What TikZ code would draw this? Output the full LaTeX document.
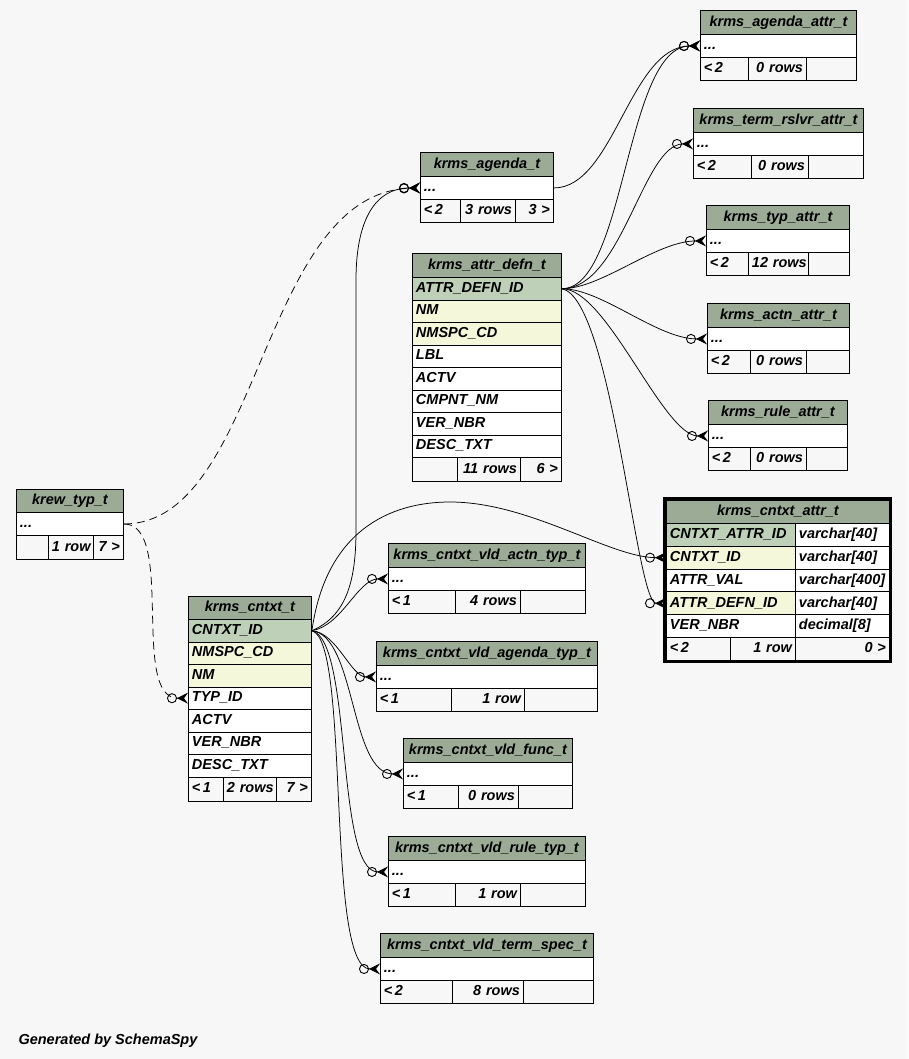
\documentclass[tikz,border=0pt]{standalone}
\usepackage{fontspec}
\setmainfont{Liberation Sans}
\usepackage{tikz}
\usetikzlibrary{arrows.meta}
\definecolor{bgc}{HTML}{F7F7F7}
\definecolor{hdrc}{HTML}{9BAB96}
\definecolor{pkc}{HTML}{BED1B8}
\definecolor{idxc}{HTML}{F4F7DA}
\newcommand{\tcell}[8]{%
  \pgfmathsetmacro{\cellw}{#4-7}%
  \node[cell, fill=#6, align=#7, text width=\cellw pt, minimum height=#5pt] (#1) at (#2,#3) {#8};}
\tikzset{
  cell/.style={draw=black, line width=0.9pt, anchor=north west, inner xsep=3.5pt, inner ysep=0pt,
    font=\fontsize{14.5}{16}\selectfont\bfseries\itshape, text height=10.5pt, text depth=3pt},
  fk/.style={line width=0.75pt, -{Circle[open,length=10pt,width=10pt,line width=0.9pt] Stealth[reversed,length=11pt,width=11pt,inset=4pt]}},
  implied/.style={fk, dash pattern=on 8pt off 5pt}
}

\begin{document}
\begin{tikzpicture}[x=1pt,y=-1pt]
    \useasboundingbox (0,0) rectangle (908,1059);
    \fill[bgc] (0,0) rectangle (908,1059);
    % krms_agenda_attr_t
    \tcell{agattr-h}{700}{10}{156}{24}{hdrc}{center}{krms\_agenda\_attr\_t}
    \tcell{agattr-r}{700}{34}{156}{23}{white}{left}{...}
    \tcell{agattr-f1}{700}{57}{48}{23}{none}{left}{<\,2}
    \tcell{agattr-f2}{748}{57}{58}{23}{none}{right}{0~rows}
    \tcell{agattr-f3}{806}{57}{50}{23}{none}{right}{}
    % krms_term_rslvr_attr_t
    \tcell{trattr-h}{693}{108}{170}{24}{hdrc}{center}{krms\_term\_rslvr\_attr\_t}
    \tcell{trattr-r}{693}{132}{170}{23}{white}{left}{...}
    \tcell{trattr-f1}{693}{155}{58}{23}{none}{left}{<\,2}
    \tcell{trattr-f2}{751}{155}{57}{23}{none}{right}{0~rows}
    \tcell{trattr-f3}{808}{155}{55}{23}{none}{right}{}
    % krms_typ_attr_t
    \tcell{typattr-h}{706}{205}{143}{24}{hdrc}{center}{krms\_typ\_attr\_t}
    \tcell{typattr-r}{706}{229}{143}{23}{white}{left}{...}
    \tcell{typattr-f1}{706}{252}{42}{23}{none}{left}{<\,2}
    \tcell{typattr-f2}{748}{252}{60}{23}{none}{right}{12~rows}
    \tcell{typattr-f3}{808}{252}{41}{23}{none}{right}{}
    % krms_actn_attr_t
    \tcell{actnattr-h}{707}{303}{142}{24}{hdrc}{center}{krms\_actn\_attr\_t}
    \tcell{actnattr-r}{707}{327}{142}{23}{white}{left}{...}
    \tcell{actnattr-f1}{707}{350}{43}{23}{none}{left}{<\,2}
    \tcell{actnattr-f2}{750}{350}{56}{23}{none}{right}{0~rows}
    \tcell{actnattr-f3}{806}{350}{43}{23}{none}{right}{}
    % krms_rule_attr_t
    \tcell{ruleattr-h}{708}{400}{139}{24}{hdrc}{center}{krms\_rule\_attr\_t}
    \tcell{ruleattr-r}{708}{424}{139}{23}{white}{left}{...}
    \tcell{ruleattr-f1}{708}{447}{42}{23}{none}{left}{<\,2}
    \tcell{ruleattr-f2}{750}{447}{56}{23}{none}{right}{0~rows}
    \tcell{ruleattr-f3}{806}{447}{41}{23}{none}{right}{}
    % krms_agenda_t
    \tcell{agenda-h}{420}{152}{133}{24}{hdrc}{center}{krms\_agenda\_t}
    \tcell{agenda-r}{420}{176}{133}{23}{white}{left}{...}
    \tcell{agenda-f1}{420}{199}{40}{23}{none}{left}{<\,2}
    \tcell{agenda-f2}{460}{199}{55}{23}{none}{right}{3~rows}
    \tcell{agenda-f3}{515}{199}{38}{23}{none}{right}{3~>}
    % krms_attr_defn_t
    \tcell{ad-h}{412}{253}{149}{24}{hdrc}{center}{krms\_attr\_defn\_t}
    \tcell{ad-id}{412}{277}{149}{22.5}{pkc}{left}{ATTR\_DEFN\_ID}
    \tcell{ad-nm}{412}{299.5}{149}{22.5}{idxc}{left}{NM}
    \tcell{ad-ns}{412}{322}{149}{22.5}{idxc}{left}{NMSPC\_CD}
    \tcell{ad-lbl}{412}{344.5}{149}{22.5}{white}{left}{LBL}
    \tcell{ad-actv}{412}{367}{149}{22.5}{white}{left}{ACTV}
    \tcell{ad-cmp}{412}{389.5}{149}{22.5}{white}{left}{CMPNT\_NM}
    \tcell{ad-ver}{412}{412}{149}{22.5}{white}{left}{VER\_NBR}
    \tcell{ad-desc}{412}{434.5}{149}{22.5}{white}{left}{DESC\_TXT}
    \tcell{ad-f1}{412}{457}{45}{24}{none}{left}{}
    \tcell{ad-f2}{457}{457}{63}{24}{none}{right}{11~rows}
    \tcell{ad-f3}{520}{457}{41}{24}{none}{right}{6~>}
    % krew_typ_t
    \tcell{krew-h}{16}{489}{107}{23}{hdrc}{center}{krew\_typ\_t}
    \tcell{krew-r}{16}{512}{107}{23}{white}{left}{...}
    \tcell{krew-f1}{16}{535}{32}{24}{none}{left}{}
    \tcell{krew-f2}{48}{535}{45}{24}{none}{right}{1~row}
    \tcell{krew-f3}{93}{535}{30}{24}{none}{right}{7~>}
    % krms_cntxt_t
    \tcell{cntxt-h}{188}{596}{123}{23}{hdrc}{center}{krms\_cntxt\_t}
    \tcell{cntxt-id}{188}{619}{123}{22.5}{pkc}{left}{CNTXT\_ID}
    \tcell{cntxt-ns}{188}{641.5}{123}{22.5}{idxc}{left}{NMSPC\_CD}
    \tcell{cntxt-nm}{188}{664}{123}{22.5}{idxc}{left}{NM}
    \tcell{cntxt-typ}{188}{686.5}{123}{22.5}{white}{left}{TYP\_ID}
    \tcell{cntxt-actv}{188}{709}{123}{22.5}{white}{left}{ACTV}
    \tcell{cntxt-ver}{188}{731.5}{123}{22.5}{white}{left}{VER\_NBR}
    \tcell{cntxt-desc}{188}{754}{123}{22.5}{white}{left}{DESC\_TXT}
    \tcell{cntxt-f1}{188}{776.5}{35}{24.5}{none}{left}{<\,1}
    \tcell{cntxt-f2}{223}{776.5}{53}{24.5}{none}{right}{2~rows}
    \tcell{cntxt-f3}{276}{776.5}{35}{24.5}{none}{right}{7~>}
    % krms_cntxt_attr_t
    \draw [line width=3pt] (664.5,498.5) rectangle (890.5,661.5);
    \tcell{cattr-h}{666}{500}{223}{23}{hdrc}{center}{krms\_cntxt\_attr\_t}
    \tcell{cattr-aid}{666}{523}{129}{22.8}{pkc}{left}{CNTXT\_ATTR\_ID}
    \tcell{cattr-aidt}{795}{523}{94}{22.8}{white}{left}{varchar[40]}
    \tcell{cattr-cid}{666}{545.8}{129}{22.8}{idxc}{left}{CNTXT\_ID}
    \tcell{cattr-cidt}{795}{545.8}{94}{22.8}{white}{left}{varchar[40]}
    \tcell{cattr-val}{666}{568.6}{129}{22.8}{white}{left}{ATTR\_VAL}
    \tcell{cattr-valt}{795}{568.6}{94}{22.8}{white}{left}{varchar[400]}
    \tcell{cattr-did}{666}{591.4}{129}{22.8}{idxc}{left}{ATTR\_DEFN\_ID}
    \tcell{cattr-didt}{795}{591.4}{94}{22.8}{white}{left}{varchar[40]}
    \tcell{cattr-ver}{666}{614.2}{129}{22.8}{white}{left}{VER\_NBR}
    \tcell{cattr-vert}{795}{614.2}{94}{22.8}{white}{left}{decimal[8]}
    \tcell{cattr-f1}{666}{637}{64}{23}{none}{left}{<\,2}
    \tcell{cattr-f2}{730}{637}{65}{23}{none}{right}{1~row}
    \tcell{cattr-f3}{795}{637}{94}{23}{none}{right}{0~>}
    % krms_cntxt_vld_* tables
    \tcell{vldactn-h}{388}{543}{197}{24}{hdrc}{center}{krms\_cntxt\_vld\_actn\_typ\_t}
    \tcell{vldactn-r}{388}{567}{197}{23}{white}{left}{...}
    \tcell{vldactn-f1}{388}{590}{67}{23}{none}{left}{<\,1}
    \tcell{vldactn-f2}{455}{590}{65}{23}{none}{right}{4~rows}
    \tcell{vldactn-f3}{520}{590}{65}{23}{none}{right}{}
    \tcell{vldagenda-h}{376}{641}{221}{24}{hdrc}{center}{krms\_cntxt\_vld\_agenda\_typ\_t}
    \tcell{vldagenda-r}{376}{665}{221}{23}{white}{left}{...}
    \tcell{vldagenda-f1}{376}{688}{75}{23}{none}{left}{<\,1}
    \tcell{vldagenda-f2}{451}{688}{73}{23}{none}{right}{1~row}
    \tcell{vldagenda-f3}{524}{688}{73}{23}{none}{right}{}
    \tcell{vldfunc-h}{403}{738}{169}{24}{hdrc}{center}{krms\_cntxt\_vld\_func\_t}
    \tcell{vldfunc-r}{403}{762}{169}{23}{white}{left}{...}
    \tcell{vldfunc-f1}{403}{785}{55}{23}{none}{left}{<\,1}
    \tcell{vldfunc-f2}{458}{785}{60}{23}{none}{right}{0~rows}
    \tcell{vldfunc-f3}{518}{785}{54}{23}{none}{right}{}
    \tcell{vldrule-h}{388}{836}{197}{24}{hdrc}{center}{krms\_cntxt\_vld\_rule\_typ\_t}
    \tcell{vldrule-r}{388}{860}{197}{23}{white}{left}{...}
    \tcell{vldrule-f1}{388}{883}{67}{23}{none}{left}{<\,1}
    \tcell{vldrule-f2}{455}{883}{65}{23}{none}{right}{1~row}
    \tcell{vldrule-f3}{520}{883}{65}{23}{none}{right}{}
    \tcell{vldterm-h}{380}{933}{213}{24}{hdrc}{center}{krms\_cntxt\_vld\_term\_spec\_t}
    \tcell{vldterm-r}{380}{957}{213}{23}{white}{left}{...}
    \tcell{vldterm-f1}{380}{980}{72}{23}{none}{left}{<\,2}
    \tcell{vldterm-f2}{452}{980}{71}{23}{none}{right}{8~rows}
    \tcell{vldterm-f3}{523}{980}{70}{23}{none}{right}{}
    % relationships
    \draw [fk] (agenda-r.east) .. controls +(60,0) and +(-70,0) .. (agattr-r.west);
    \draw [fk] (ad-id.east) .. controls +(64,0) and +(-75,0) .. (agattr-r.west);
    \draw [fk] (ad-id.east) .. controls +(60,0) and +(-50,0) .. (trattr-r.west);
    \draw [fk] (ad-id.east) .. controls +(40,0) and +(-50,0) .. (typattr-r.west);
    \draw [fk] (ad-id.east) .. controls +(40,0) and +(-50,0) .. (actnattr-r.west);
    \draw [fk] (ad-id.east) .. controls +(45,0) and +(-45,0) .. (ruleattr-r.west);
    \draw [fk] (ad-id.east) .. controls +(50,10) and +(-30,0) .. (cattr-did.west);
    \draw [implied] (krew-r.east) .. controls +(137,0) and +(-160,5) .. (agenda-r.west);
    \draw [implied] (krew-r.east) .. controls +(52,0) and +(-58,0) .. (cntxt-typ.west);
    \draw [fk] (cntxt-id.east) .. controls +(35,-15) and +(0,50) .. (356,530) -- (356,280)
        .. controls +(0,-60) and +(-45,0) .. (agenda-r.west);
    \draw [fk] (cntxt-id.east) .. controls +(14,-100) and +(-60,0) .. (450,502)
        .. controls +(80,0) and +(-56,0) .. (cattr-cid.west);
    \draw [fk] (cntxt-id.east) .. controls +(30,-5) and +(-30,0) .. (vldactn-r.west);
    \draw [fk] (cntxt-id.east) .. controls +(25,2) and +(-25,0) .. (vldagenda-r.west);
    \draw [fk] (cntxt-id.east) .. controls +(44,5) and +(-53,0) .. (vldfunc-r.west);
    \draw [fk] (cntxt-id.east) .. controls +(41,10) and +(-53,0) .. (vldrule-r.west);
    \draw [fk] (cntxt-id.east) .. controls +(39,10) and +(-55,0) .. (vldterm-r.west);
    \node[anchor=base west, font=\fontsize{14.5}{16}\selectfont\bfseries\itshape] (credit) at (15,1044) {Generated by SchemaSpy};
\end{tikzpicture}
\end{document}
